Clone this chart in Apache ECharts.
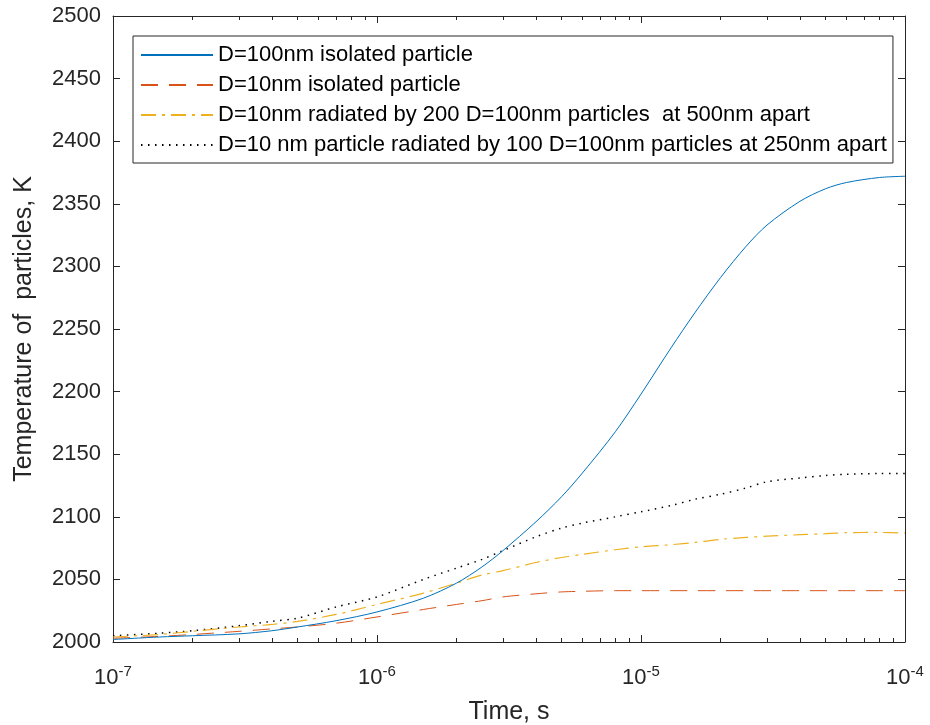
<!DOCTYPE html>
<html><head><meta charset="utf-8">
<script src="https://cdn.jsdelivr.net/npm/echarts@6/dist/echarts.min.js"></script>
<style>html,body{margin:0;padding:0;background:#fff}#c{width:930px;height:725px}</style>
</head><body><div id="c"></div>
<script>
// Time samples (s)
const times = [1e-7, 1.5e-7, 2e-7, 3e-7, 4e-7, 5e-7, 7e-7, 1e-6, 1.5e-6, 2e-6, 2.5e-6, 3e-6, 4e-6, 5e-6, 6e-6, 8e-6,
  1e-5, 1.3e-5, 1.6e-5, 2e-5, 2.5e-5, 3e-5, 4e-5, 5e-5, 6e-5, 8e-5, 1e-4];
// Temperatures (K)
const tempD100Isolated = [2002, 2004, 2005, 2006.5, 2009, 2012, 2017, 2024, 2035, 2047, 2060, 2073, 2096, 2116, 2135, 2168,
  2198, 2235, 2263, 2291, 2316, 2333, 2352, 2362, 2367, 2371, 2372];
const tempD10Isolated = [2003, 2004.5, 2006, 2008.5, 2010.5, 2012, 2015, 2020, 2026, 2030, 2033, 2036, 2038.5, 2040, 2040.5, 2041,
  2041, 2041, 2041, 2041, 2041, 2041, 2041, 2041, 2041, 2041, 2041];
const tempD10By200 = [2004, 2006, 2008.5, 2012, 2014, 2016.5, 2022, 2030, 2039, 2047, 2053.5, 2057, 2063.5, 2067.5, 2070, 2073.7,
  2076, 2077.7, 2079.5, 2082, 2083.5, 2084.5, 2085.7, 2086.5, 2087.3, 2087.5, 2087];
const tempD10By100 = [2005, 2007, 2009, 2013, 2016.5, 2019, 2028, 2036, 2050, 2059, 2066, 2073, 2084, 2091, 2095, 2100,
  2104, 2109, 2114, 2118, 2123, 2128, 2131, 2133, 2134, 2134.5, 2134.5];

const seriesNames = [
  'D=100nm isolated particle',
  'D=10nm isolated particle',
  'D=10nm radiated by 200 D=100nm particles  at 500nm apart',
  'D=10 nm particle radiated by 100 D=100nm particles at 250nm apart'
];
const minorTickValues = [2e-7, 3e-7, 4e-7, 5e-7, 6e-7, 7e-7, 8e-7, 9e-7,
  2e-6, 3e-6, 4e-6, 5e-6, 6e-6, 7e-6, 8e-6, 9e-6,
  2e-5, 3e-5, 4e-5, 5e-5, 6e-5, 7e-5, 8e-5, 9e-5];
const yMin = 2000, yMax = 2500, yStep = 50;
const xMin = 1e-7, xMax = 1e-4;

const axisColor = '#262626';
const font = 'Liberation Sans, Arial, Helvetica, sans-serif';

function pairs(vals) { return times.map((t, i) => [t, vals[i]]); }

const chart = echarts.init(document.getElementById('c'), null, { renderer: 'canvas' });

function xAxisBase(pos) {
  return {
    type: 'log', logBase: 10, min: xMin, max: xMax, position: pos,
    splitLine: { show: false },
    axisLine: { show: true, onZero: false, lineStyle: { color: axisColor, width: 1 } },
    axisTick: { show: true, inside: true, length: 7, lineStyle: { color: axisColor } },
    minorTick: { show: false },
    axisLabel: { show: false }
  };
}
function xMinorAxis(pos) {
  return {
    type: 'log', logBase: 10, min: xMin, max: xMax, position: pos,
    splitLine: { show: false },
    axisLine: { show: false },
    axisTick: { show: true, inside: true, length: 4, customValues: minorTickValues, lineStyle: { color: axisColor } },
    axisLabel: { show: false }
  };
}

const bottomX = xAxisBase('bottom');
bottomX.axisLabel = {
  show: true, margin: 22, color: axisColor, fontFamily: font,
  formatter: v => '{b|10}{s|' + Math.round(Math.log10(v)) + '}',
  rich: {
    b: { fontSize: 22, fontFamily: font, color: axisColor },
    s: { fontSize: 15, fontFamily: font, color: axisColor, padding: [0, 0, 13, 0] }
  }
};
bottomX.name = 'Time, s';
bottomX.nameLocation = 'middle';
bottomX.nameGap = 58;
bottomX.nameTextStyle = { fontSize: 25, fontFamily: font, color: axisColor };

function yAxisBase(pos) {
  return {
    type: 'value', min: yMin, max: yMax, interval: yStep, position: pos,
    splitLine: { show: false },
    axisLine: { show: true, onZero: false, lineStyle: { color: axisColor, width: 1 } },
    axisTick: { show: true, inside: true, length: 7, lineStyle: { color: axisColor } },
    axisLabel: { show: false }
  };
}
const leftY = yAxisBase('left');
leftY.axisLabel = { show: true, margin: 12, fontSize: 22, fontFamily: font, color: axisColor, formatter: v => String(v) };
leftY.name = 'Temperature of  particles, K';
leftY.nameLocation = 'middle';
leftY.nameGap = 76;
leftY.nameTextStyle = { fontSize: 25, fontFamily: font, color: axisColor };

const styles = [
  { color: '#0072BD', type: 'solid', width: 1 },
  { color: '#D95319', type: [17, 11], width: 1 },
  { color: '#EDB120', type: [15, 6, 3, 6], width: 1.2 },
  { color: '#000000', type: [1.5, 5.5], width: 1.5 }
];
const valueSets = [tempD100Isolated, tempD10Isolated, tempD10By200, tempD10By100];

const option = {
  animation: false,
  backgroundColor: '#ffffff',
  grid: { left: 113, right: 25, top: 16, bottom: 83, containLabel: false, outerBoundsMode: 'none' },
  xAxis: [bottomX, xMinorAxis('bottom'), xAxisBase('top'), xMinorAxis('top')],
  yAxis: [leftY, yAxisBase('right')],
  legend: {
    orient: 'vertical', left: 133, top: 36,
    itemWidth: 72, itemHeight: 22, itemGap: 8,
    padding: [8, 6, 7, 7],
    borderColor: axisColor, borderWidth: 1, backgroundColor: '#ffffff',
    itemStyle: { opacity: 0 },
    textStyle: { fontSize: 22, fontFamily: font, color: '#000', lineHeight: 22 },
    data: seriesNames
  },
  series: seriesNames.map((name, i) => ({
    name, type: 'line', xAxisIndex: 0, yAxisIndex: 0,
    data: pairs(valueSets[i]),
    symbol: 'none', showSymbol: false, smooth: 0.3,
    lineStyle: styles[i], itemStyle: { color: styles[i].color },
    z: 4 - i
  }))
};
chart.setOption(option);
</script>
</body></html>
